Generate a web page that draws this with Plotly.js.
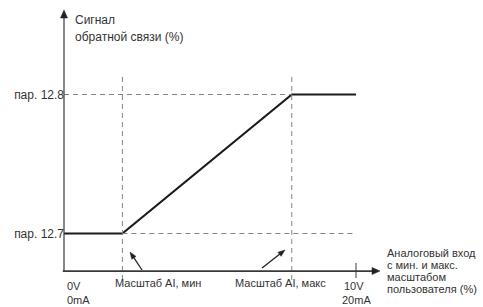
<!DOCTYPE html>
<html><head><meta charset="utf-8">
<script src="https://cdn.plot.ly/plotly-3.0.1.min.js"></script>
<style>html,body{margin:0;padding:0;background:#fff}</style>
</head><body><div id="c" style="width:483px;height:307px"></div>
<script>
// input scale position (% of 0..10V / 0..20mA)
const xInput = [0, 20, 78, 100];
// feedback level (0 = пар. 12.7, 1 = пар. 12.8)
const yFeedback = [0, 0, 1, 1];
const yTickVals = [0, 1];
const yTickText = ['пар. 12.7', 'пар. 12.8'];
const aiMin = 20, aiMax = 78, fullScale = 100;

// geometry of the drawing (pixel <-> data mapping used for decorations)
const W = 483, H = 307, L = 64, AX = 271, XL = 62.5, XE = 374;
const px2x = p => (p - L) / 2.92;
const py2y = p => (233.5 - p) / 139;
const XR = [px2x(XL), px2x(XE)];
const YR = [py2y(H), py2y(0)];

const txt = '#333', dash = '#858585', ink = '#222', axc = '#3a3a3a';
const F = {family: 'Liberation Sans, Arial, sans-serif', size: 12, color: txt};
const F11 = {...F, size: 11};

// arrow heads in paper coordinates (never clipped)
function head(tip, tail, len, hw) {
  const dx = tip[0] - tail[0], dy = tip[1] - tail[1];
  const d = Math.hypot(dx, dy), ux = dx / d, uy = dy / d;
  const bx = tip[0] - ux * len, by = tip[1] - uy * len;
  const p1 = [bx - uy * hw, by + ux * hw], p2 = [bx + uy * hw, by - ux * hw];
  const pt = p => (p[0] / W) + ',' + ((H - p[1]) / H);
  return {type:'path', xref:'paper', yref:'paper', path:'M' + pt(tip) + ' L' + pt(p1) + ' L' + pt(p2) + ' Z',
          fillcolor: ink, line:{color: ink, width: 0.5}};
}
function seg(a, b, w, c) {
  return {type:'line', xref:'x', yref:'y', x0: px2x(a[0]), y0: py2y(a[1]), x1: px2x(b[0]), y1: py2y(b[1]),
          line:{color: c || ink, width: w}};
}

const dashLine = {color: dash, width: 1, dash: '5px,4px'};
const shapes = [
  {type:'line', xref:'x', yref:'y', x0:0, x1:aiMax, y0:1, y1:1, line:dashLine},
  {type:'line', xref:'x', yref:'y', x0:aiMin, x1:99, y0:0, y1:0, line:dashLine},
  {type:'line', xref:'x', yref:'y', x0:aiMin, x1:aiMin, y0:py2y(77), y1:py2y(285), line:dashLine},
  {type:'line', xref:'x', yref:'y', x0:aiMax, x1:aiMax, y0:py2y(77), y1:py2y(285), line:dashLine},
  // axes
  seg([L, AX + 0.5], [L, 16], 1.2, axc),
  head([L, 10], [L, AX], 8, 3.5),
  seg([XL, AX], [XE, AX], 1.4, axc),
  head([380, AX], [L, AX], 8, 3.5),
  // 10V tick
  seg([356, 263], [356, 278], 1, axc),
  // pointers
  seg([142, 270], [132.5, 255.7], 1.3),
  head([130, 252], [142, 270], 7, 2.6),
  seg([262, 268], [281.5, 252.7], 1.3),
  head([285, 250], [262, 268], 7, 2.6)
];

const t = (x, y, s, font) => ({x: x / W, y: (H - y) / H, xref:'paper', yref:'paper', text: s, showarrow:false,
  xanchor: 'left', yanchor:'middle', font: font});
const ann = [
  t(73, 20, 'Сигнал', F),
  t(73, 37, 'обратной связи (%)', F),
  t(113, 283, 'Масштаб AI, мин', F11),
  t(233, 283, 'Масштаб AI, макс', F11),
  t(65, 286, '0V', F11),
  t(65, 300, '0mA', F11),
  t(342, 286, '10V', F11),
  t(340, 300, '20mA', F11),
  t(385, 253, 'Аналоговый вход', F11),
  t(385, 265, 'с мин. и макс.', F11),
  t(385, 277, 'масштабом', F11),
  t(385, 289, 'пользователя (%)', F11)
];

Plotly.newPlot('c', [{
  x: xInput, y: yFeedback, type:'scatter', mode:'lines',
  line:{color:'#1a1a1a', width:2.2}, hoverinfo:'skip'
}], {
  width: W, height: H,
  margin:{l:0, r:0, t:0, b:0},
  paper_bgcolor:'#fff', plot_bgcolor:'#fff',
  showlegend:false,
  xaxis:{range: XR, domain:[XL / W, XE / W], anchor:'free', position:(H - AX) / H,
         showline:true, linecolor:axc, linewidth:1.4,
         showgrid:false, zeroline:false, showticklabels:false, ticks:''},
  yaxis:{range: YR, anchor:'free', position: L / W, showgrid:false, zeroline:false, showline:false,
         tickvals:yTickVals, ticktext:yTickText, ticks:'', tickfont:F},
  shapes: shapes, annotations: ann
}, {staticPlot:true});
</script></body></html>
